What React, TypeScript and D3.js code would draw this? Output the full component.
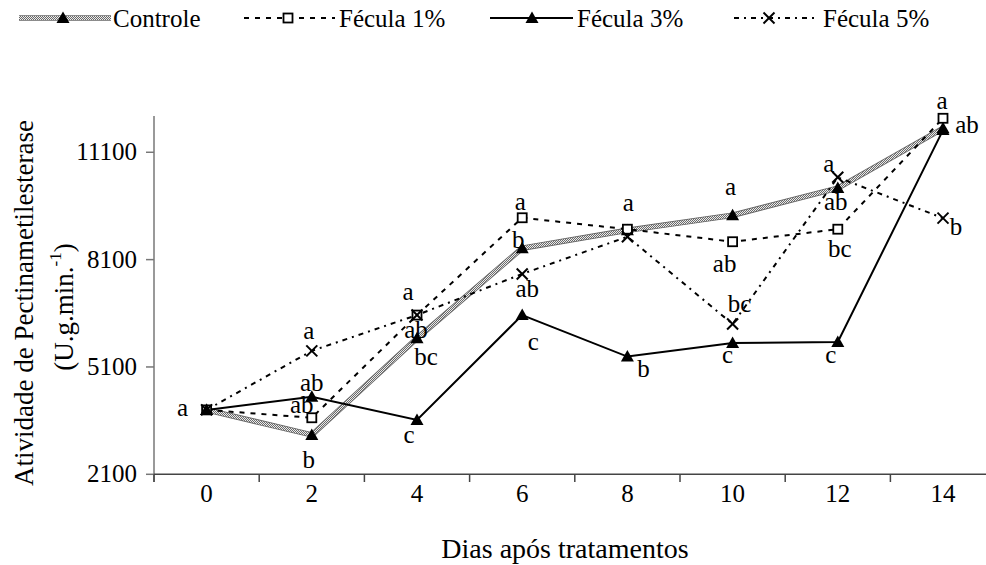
import React from 'react';
import * as d3 from 'd3';

// Days after treatment (categories)
const days = ['0', '2', '4', '6', '8', '10', '12', '14'];

// Pectin methylesterase activity (U.g.min.-1) per treatment
const controle = [3900, 3200, 5900, 8420, 8920, 9340, 10100, 11770];
const fecula1 = [3900, 3680, 6550, 9270, 8950, 8600, 8950, 12050];
const fecula3 = [3900, 4270, 3620, 6550, 5390, 5770, 5800, 11720];
const fecula5 = [3900, 5550, 6550, 7700, 8740, 6300, 10400, 9260];

// Significance letters per point ('' = no letter drawn)
const lettersControle = ['a', 'b', 'bc', 'b', 'a', 'a', 'ab', 'ab'];
const lettersFecula1 = ['', 'ab', 'a', 'a', '', 'ab', 'bc', 'a'];
const lettersFecula3 = ['', 'ab', 'c', 'c', 'b', 'c', 'c', ''];
const lettersFecula5 = ['', 'a', 'ab', 'ab', '', 'bc', 'a', 'b'];

// Letter placement (dx, baseline dy) relative to each point
const offControle: [number, number][] = [[-24, 6], [-3, 33], [9, 27], [-4, 0], [1, -19], [-2, -20], [-2, 22], [24, 5]];
const offFecula1: [number, number][] = [[0, 0], [-10, -5], [-9, -15], [-2, -8], [0, 0], [-8, 30], [2, 28], [-1, -9]];
const offFecula3: [number, number][] = [[0, 0], [0, -6], [-8, 23], [11, 35], [16, 20], [-5, 20], [-7, 21], [0, 0]];
const offFecula5: [number, number][] = [[0, 0], [-3, -12], [-1, 23], [5, 23], [0, 0], [7, -12], [-9, -5], [13, 17]];

const yTicks = [2100, 5100, 8100, 11100];

const FONT = "'Liberation Serif', 'DejaVu Serif', serif";

type Marker = 'triangle' | 'square' | 'cross';

function MarkerShape({ kind, x, y }: { kind: Marker; x: number; y: number }) {
  if (kind === 'triangle') {
    return <path d={`M${x},${y - 6.5} L${x + 6.5},${y + 5} L${x - 6.5},${y + 5} Z`} fill="#000" />;
  }
  if (kind === 'square') {
    return <rect x={x - 4.5} y={y - 4.5} width={9} height={9} fill="#fff" stroke="#000" strokeWidth={1.8} />;
  }
  return (
    <g stroke="#000" strokeWidth={2}>
      <line x1={x - 5.5} y1={y - 5.5} x2={x + 5.5} y2={y + 5.5} />
      <line x1={x - 5.5} y1={y + 5.5} x2={x + 5.5} y2={y - 5.5} />
    </g>
  );
}

export default function App() {
  const W = 986;
  const H = 565;
  const x = d3.scaleBand<string>().domain(days).range([154, 995.6]).padding(0);
  const bw = x.bandwidth();
  const cx = (d: string) => (x(d) as number) + bw / 2;
  const y = d3.scaleLinear().domain([2100, 12100]).range([474.3, 116.5]);
  const line = d3
    .line<number>()
    .x((_, i) => cx(days[i]))
    .y((v) => y(v));

  const series: {
    name: string;
    values: number[];
    letters: string[];
    offs: [number, number][];
    marker: Marker;
    kind: 'gray' | 'dash' | 'solid' | 'dashdot';
  }[] = [
    { name: 'Controle', values: controle, letters: lettersControle, offs: offControle, marker: 'triangle', kind: 'gray' },
    { name: 'Fécula 1%', values: fecula1, letters: lettersFecula1, offs: offFecula1, marker: 'square', kind: 'dash' },
    { name: 'Fécula 3%', values: fecula3, letters: lettersFecula3, offs: offFecula3, marker: 'triangle', kind: 'solid' },
    { name: 'Fécula 5%', values: fecula5, letters: lettersFecula5, offs: offFecula5, marker: 'cross', kind: 'dashdot' },
  ];

  const strokeFor = (kind: string, d: string, key: string) => {
    if (kind === 'gray') {
      return (
        <g key={key}>
          <path d={d} fill="none" stroke="#666" strokeWidth={5.5} strokeLinejoin="round" />
          <path d={d} fill="none" stroke="url(#checker)" strokeWidth={3.8} strokeLinejoin="round" />
        </g>
      );
    }
    if (kind === 'dash') {
      return <path key={key} d={d} fill="none" stroke="#000" strokeWidth={2} strokeDasharray="5 6" />;
    }
    if (kind === 'dashdot') {
      return <path key={key} d={d} fill="none" stroke="#000" strokeWidth={2} strokeDasharray="5 5 2 5" />;
    }
    return <path key={key} d={d} fill="none" stroke="#000" strokeWidth={2} />;
  };

  // Legend layout: line start, line end, marker x, text x
  const legendItems = [
    { s: series[0], x0: 19, x1: 111, mx: 63, tx: 113 },
    { s: series[1], x0: 244, x1: 335, mx: 288, tx: 339 },
    { s: series[2], x0: 490, x1: 573, mx: 532, tx: 577 },
    { s: series[3], x0: 734, x1: 816, mx: 769, tx: 823 },
  ];
  const legendY = 18;

  const txt = { fontFamily: FONT, fontSize: 25, fill: '#000' } as React.CSSProperties;
  const titleY = { fontFamily: FONT, fontSize: 27, fill: '#000' } as React.CSSProperties;
  const titleX = { fontFamily: FONT, fontSize: 28, fill: '#000' } as React.CSSProperties;

  return (
    <svg
      width={W}
      height={H}
      style={{ position: 'absolute', left: 0, top: 0, background: '#fff', fontFamily: FONT }}
    >
      <defs>
        <pattern id="checker" width={2} height={2} patternUnits="userSpaceOnUse">
          <rect width={2} height={2} fill="#ececec" />
          <rect width={1} height={1} fill="#6a6a6a" />
          <rect x={1} y={1} width={1} height={1} fill="#6a6a6a" />
        </pattern>
      </defs>
      <rect width={W} height={H} fill="#fff" />

      {/* Legend */}
      {legendItems.map((it, i) => (
        <g key={`lg${i}`}>
          {strokeFor(it.s.kind, `M${it.x0},${legendY} L${it.x1},${legendY}`, `lgl${i}`)}
          <MarkerShape kind={it.s.marker} x={it.mx} y={legendY} />
          <text x={it.tx} y={legendY + 9} style={txt}>
            {it.s.name}
          </text>
        </g>
      ))}

      {/* Y axis */}
      <line x1={154} y1={116} x2={154} y2={482} stroke="#777" strokeWidth={1.5} />
      {yTicks.map((t) => (
        <g key={`yt${t}`}>
          <line x1={146} y1={y(t)} x2={154} y2={y(t)} stroke="#777" strokeWidth={1.5} />
          <text x={137} y={y(t) + 8} textAnchor="end" style={txt}>
            {t}
          </text>
        </g>
      ))}

      {/* X axis */}
      <line x1={154} y1={474.3} x2={W} y2={474.3} stroke="#444" strokeWidth={1.5} />
      {days.map((d) => (
        <g key={`xt${d}`}>
          <line x1={x(d) as number} y1={474.3} x2={x(d) as number} y2={482} stroke="#444" strokeWidth={1.5} />
          <text x={cx(d)} y={502} textAnchor="middle" style={txt}>
            {d}
          </text>
        </g>
      ))}

      {/* Axis titles */}
      <text x={565} y={558} textAnchor="middle" style={titleX}>
        Dias após tratamentos
      </text>
      <text transform="translate(33,303) rotate(-90)" textAnchor="middle" style={titleY}>
        Atividade de Pectinametilesterase
      </text>
      <text transform="translate(73,307) rotate(-90)" textAnchor="middle" style={titleY}>
        (U.g.min.
        <tspan style={{ fontSize: 17 }} dy={-12}>-1</tspan>
        <tspan dy={12}>)</tspan>
      </text>

      {/* Lines */}
      {series.map((s, i) => strokeFor(s.kind, line(s.values) as string, `ln${i}`))}

      {/* Markers */}
      {series.map((s, i) => (
        <g key={`mk${i}`}>
          {s.values.map((v, j) => (
            <MarkerShape key={j} kind={s.marker} x={cx(days[j])} y={y(v)} />
          ))}
        </g>
      ))}

      {/* Significance letters */}
      {series.map((s, i) => (
        <g key={`lb${i}`}>
          {s.values.map((v, j) =>
            s.letters[j] ? (
              <text
                key={j}
                x={cx(days[j]) + s.offs[j][0]}
                y={y(v) + s.offs[j][1]}
                textAnchor="middle"
                style={txt}
              >
                {s.letters[j]}
              </text>
            ) : null
          )}
        </g>
      ))}
    </svg>
  );
}
